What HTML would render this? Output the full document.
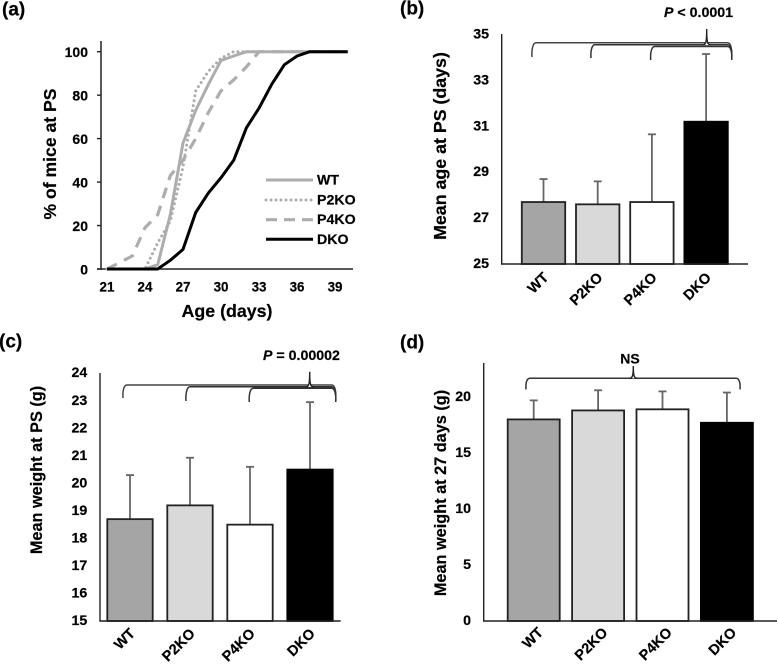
<!DOCTYPE html>
<html lang="en">
<head>
<meta charset="utf-8">
<title>Puberty onset charts</title>
<style>
html,body{margin:0;padding:0;background:#fff;}
svg{display:block;font-family:"Liberation Sans",sans-serif;font-weight:bold;fill:#000;filter:blur(0.3px);}
text{stroke:#000;stroke-width:0.2px;}
</style>
</head>
<body>
<svg id="figure" width="778" height="664" viewBox="0 0 778 664" xmlns="http://www.w3.org/2000/svg"></svg>
<script>
const ageTicks = [21, 24, 27, 30, 33, 36, 39];
const percentTicks = [0, 20, 40, 60, 80, 100];
const lineNames = ['WT', 'P2KO', 'P4KO', 'DKO'];
const ageDays = [21,22,23,24,25,26,27,28,29,30,31,32,33,34,35,36,37,38,39,40];
const wtCurve = [0,0,0,0,2,25,58,73,85,96,98,100,100,100,100,100,100,100,100,100];
const p2koCurve = [0,0,0,0,12,22,47,82,91,97,100,100,100,100,100,100,100,100,100,100];
const p4koCurve = [0,3,6,19,25,43,50,60,72,82,87,93,100,100,100,100,100,100,100,100];
const dkoCurve = [0,0,0,0,0,4,9,26,35,42,50,65,74,85,94,98,100,100,100,100];

const genotypes = ['WT', 'P2KO', 'P4KO', 'DKO'];
const ageMeans = [27.7, 27.6, 27.7, 31.2];
const ageErrorTops = [28.7, 28.6, 30.65, 34.15];
const ageTicksY = [25, 27, 29, 31, 33, 35];
const weightMeans = [18.7, 19.2, 18.5, 20.5];
const weightErrorTops = [20.3, 20.93, 20.6, 22.95];
const weightTicksY = [15, 16, 17, 18, 19, 20, 21, 22, 23, 24];
const weight27Means = [18, 18.8, 18.9, 17.7];
const weight27ErrorTops = [19.7, 20.6, 20.5, 20.4];
const weight27TicksY = [0, 5, 10, 15, 20];

const NS = 'http://www.w3.org/2000/svg';
const root = document.getElementById('figure');

function make(tag, name, attrs, text) {
  const el = document.createElementNS(NS, tag);
  
  
  for (const k in attrs) el.setAttribute(k, attrs[k]);
  if (text !== undefined) el.textContent = text;
  root.appendChild(el);
  return el;
}
function label(name, x, y, size, text, anchor, rotate) {
  const a = {x: x, y: y, 'font-size': size, 'text-anchor': anchor || 'middle', 'dominant-baseline': 'central'};
  if (rotate !== undefined) a.transform = 'rotate(' + rotate + ' ' + x + ' ' + y + ')';
  return make('text', name, a, text);
}
function rule(name, x1, y1, x2, y2, color, w) {
  return make('line', name, {x1: x1, y1: y1, x2: x2, y2: y2, stroke: color, 'stroke-width': w});
}

/* ---------- panel a ---------- */
const ax = d => 107 + (d - 21) * 12.67;
const ay = v => 269 - v * 2.173;
label('panel-a-label', 2, 10, 19, '(a)', 'start');
rule('a-y-axis', 101, 41, 101, 269.7, '#222', 1.5);
rule('a-x-axis', 97, 269, 353, 269, '#222', 1.5);
percentTicks.forEach(t => {
  rule('a-y-tick-' + t, 97, ay(t), 101, ay(t), '#222', 1.4);
  label('a-y-label-' + t, 88, ay(t) + 0.5, 14, t, 'end');
});
ageTicks.forEach(t => {
  label('a-x-label-' + t, ax(t), 287, 13.4, t);
});
label('a-x-title', 227, 311, 17.8, 'Age (days)');
label('a-y-title', 50, 154, 17.6, '% of mice at PS', 'middle', -90);

const lineSeries = [wtCurve, p2koCurve, p4koCurve, dkoCurve];
const lineStyles = [
  {stroke: '#adadad', width: 3, dash: ''},
  {stroke: '#adadad', width: 3, dash: '0 5', cap: 'round'},
  {stroke: '#adadad', width: 3.2, dash: '11 8'},
  {stroke: '#000', width: 3, dash: ''}
];
lineSeries.forEach((vals, i) => {
  const pts = vals.map((v, k) => ax(ageDays[k]).toFixed(1) + ',' + ay(v).toFixed(1)).join(' ');
  const s = lineStyles[i];
  make('polyline', 'line-' + lineNames[i].toLowerCase(), {
    points: pts, fill: 'none', stroke: s.stroke, 'stroke-width': s.width,
    'stroke-dasharray': s.dash, 'stroke-linecap': s.cap || 'butt', 'stroke-linejoin': 'round'
  });
});
const legendY = [180, 200, 219.7, 239.3];
lineNames.forEach((n, i) => {
  const s = lineStyles[i];
  make('line', 'legend-line-' + n.toLowerCase(), {
    x1: 266, y1: legendY[i], x2: 313, y2: legendY[i], stroke: s.stroke, 'stroke-width': s.width,
    'stroke-dasharray': s.dash === '11 8' ? '11 7' : s.dash, 'stroke-linecap': s.cap || 'butt'
  });
  label('legend-label-' + n.toLowerCase(), 317, legendY[i] + 0.5, 14.2, n, 'start');
});

/* ---------- bar panels ---------- */
const barFills = ['#a5a5a5', '#d9d9d9', '#ffffff', '#000000'];
function barPanel(p) {
  const y = v => p.yBase - (v - p.min) * p.unit;
  const cx = i => p.first + i * p.step;
  p.ticks.forEach(t => {
    label(p.id + '-y-label-' + t, p.labelX, y(t), 14.2, t, 'end');
  });
  genotypes.forEach((g, i) => {
    const c = cx(i);
    const top = y(p.tops[i]);
    rule(p.id + '-error-' + g.toLowerCase(), c, y(p.means[i]), c, top, '#666', 1.8);
    rule(p.id + '-error-cap-' + g.toLowerCase(), c - 4, top, c + 4, top, '#666', 1.8);
    make('rect', p.id + '-bar-' + g.toLowerCase(), {
      x: c - p.width / 2, y: y(p.means[i]), width: p.width, height: p.yBase - y(p.means[i]),
      fill: barFills[i], stroke: i === 3 ? '#000' : '#222', 'stroke-width': 1.8
    });
    const ex = c + p.tickDx, ey = p.yBase + p.tickDy;
    label(p.id + '-x-label-' + g.toLowerCase(), ex, ey, 14.5, g, 'end', -45);
  });
  rule(p.id + '-y-axis', p.axisX, p.top, p.axisX, p.yBase + 0.7, '#222', 1.4);
  rule(p.id + '-x-axis', p.axisX, p.yBase, p.right, p.yBase, '#222', 1.4);
}
function brace(name, x1, x2, yTop, yBottom, color) {
  const r = 4;
  make('path', name, {
    d: 'M' + x1 + ' ' + yBottom + ' C' + (x1 - 0.5) + ' ' + (yBottom - 6) + ' ' + (x1 + 0.5) + ' ' + yTop + ' ' + (x1 + r) + ' ' + yTop +
       ' L' + (x2 - r) + ' ' + yTop + ' C' + (x2 - 0.5) + ' ' + yTop + ' ' + (x2 + 0.5) + ' ' + (yBottom - 6) + ' ' + x2 + ' ' + yBottom,
    fill: 'none', stroke: color, 'stroke-width': 1.5
  });
}
function peak(name, x, yTop, yBase) {
  make('path', name, {
    d: 'M' + (x - 4) + ' ' + yBase + ' C' + (x - 1) + ' ' + yBase + ' ' + x + ' ' + (yBase - 2) + ' ' + x + ' ' + yTop +
       ' C' + x + ' ' + (yBase - 2) + ' ' + (x + 1) + ' ' + yBase + ' ' + (x + 4) + ' ' + yBase,
    fill: '#fff', stroke: '#222', 'stroke-width': 1.4
  });
}
function pValue(name, x, y, size, rest) {
  const t = make('text', name, {x: x, y: y, 'font-size': size, 'dominant-baseline': 'central'});
  const a = document.createElementNS(NS, 'tspan');
  a.setAttribute('font-style', 'italic');
  a.textContent = 'P';
  t.appendChild(a);
  t.appendChild(document.createTextNode(rest));
}

/* panel b */
label('panel-b-label', 400, 9, 19, '(b)', 'start');
label('b-y-title', 440, 146, 17.8, 'Mean age at PS (days)', 'middle', -90);
barPanel({id: 'b', min: 25, unit: 22.95, yBase: 264, top: 34, axisX: 501.7, right: 748, labelX: 489,
  first: 543.5, step: 54.2, width: 43.4, means: ageMeans, tops: ageErrorTops, ticks: ageTicksY, tickDx: 3, tickDy: 11.5});
brace('b-brace-wt', 532, 731.7, 42.7, 57, '#444');
brace('b-brace-p2ko', 591, 731.7, 44.7, 58, '#333');
brace('b-brace-p4ko', 650.7, 731.7, 46.5, 60, '#333');
peak('b-brace-peak', 706.7, 29, 45);
pValue('b-p-value', 664, 13, 14.2, ' < 0.0001');

/* panel c */
label('panel-c-label', -1, 342, 19, '(c)', 'start');
label('c-y-title', 37, 470, 16.3, 'Mean weight at PS (g)', 'middle', -90);
barPanel({id: 'c', min: 15, unit: 27.53, yBase: 621, top: 373, axisX: 100, right: 340.7, labelX: 87.3,
  first: 130, step: 60, width: 45.4, means: weightMeans, tops: weightErrorTops, ticks: weightTicksY, tickDx: 3, tickDy: 10.5});
brace('c-brace-wt', 123, 335.7, 385, 398, '#444');
brace('c-brace-p2ko', 186, 335.7, 386.7, 401, '#333');
brace('c-brace-p4ko', 249.3, 335.7, 388.3, 402, '#333');
peak('c-brace-peak', 309.7, 371.7, 387);
pValue('c-p-value', 263, 356, 14.2, ' = 0.00002');

/* panel d */
label('panel-d-label', 400, 343, 19, '(d)', 'start');
label('d-y-title', 441, 493, 16.3, 'Mean weight at 27 days (g)', 'middle', -90);
barPanel({id: 'd', min: 0, unit: 11.2, yBase: 621, top: 363, axisX: 483.7, right: 777, labelX: 471,
  first: 533.7, step: 64.4, width: 52, means: weight27Means, tops: weight27ErrorTops, ticks: weight27TicksY, tickDx: 7.5, tickDy: 9.5});
brace('d-brace', 526, 740, 378.3, 389.5, '#333');
peak('d-brace-peak', 633.3, 366, 378.3);
label('d-ns-label', 630, 358.5, 14, 'NS');
</script>
</body>
</html>
